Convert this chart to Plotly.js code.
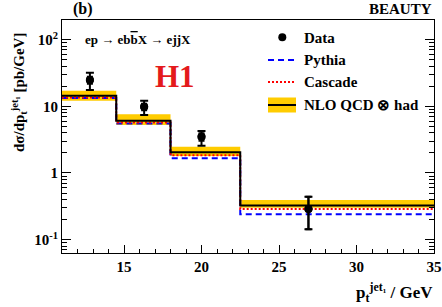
<!DOCTYPE html>
<html>
<head>
<meta charset="utf-8">
<script src="https://cdn.plot.ly/plotly-3.0.1.min.js"></script>
<style>html,body{margin:0;padding:0;background:#fff;}#chart{width:442px;height:307px;}</style>
</head>
<body>
<div id="chart"></div>
<script>
// ---- data ----
var binEdges = [11, 14.5, 18, 22.5, 35];
var dataX = [12.8, 16.3, 20.0, 26.9];
var dataY = [24.8, 9.86, 3.5, 0.289];
var dataTotUp = [7.1, 2.24, 0.76, 0.152];
var dataTotDown = [7.3, 2.45, 0.94, 0.146];
var dataStatUp = [3.0, 1.1, 0.45, 0.152];
var dataStatDown = [3.0, 1.1, 0.45, 0.146];
var nloCentral = [14.4, 6.08, 2.04, 0.326];
var nloUpper = [17.1, 7.6, 2.48, 0.394];
var nloLower = [12.1, 5.24, 1.80, 0.30];
var pythia = [13.3, 5.5, 1.66, 0.24];
var cascade = [13.5, 5.7, 1.85, 0.289];
var yTickVals = [0.1, 1, 10, 100];
var yTickText = ['10<sup>-1</sup>', '1', '10', '10<sup>2</sup>'];
var xTickVals = [15, 20, 25, 30, 35];

function stepY(v) { return v.concat([v[v.length - 1]]); }

var FONT = 'Liberation Serif, Times New Roman, serif';
var YELLOW = '#ffcc00';

var traces = [
  {x: binEdges, y: stepY(nloUpper), mode: 'lines', line: {shape: 'hv', width: 0, color: YELLOW}, showlegend: false, hoverinfo: 'skip'},
  {x: binEdges, y: stepY(nloLower), mode: 'lines', line: {shape: 'hv', width: 0, color: YELLOW}, fill: 'tonexty', fillcolor: YELLOW, showlegend: false, hoverinfo: 'skip'},
  {x: binEdges, y: stepY(pythia), mode: 'lines', line: {shape: 'hv', width: 2, color: '#0000ff', dash: '6px,4px'}, showlegend: false},
  {x: binEdges, y: stepY(cascade), mode: 'lines', line: {shape: 'hv', width: 2, color: '#ff0000', dash: '2px,2px'}, showlegend: false},
  {x: binEdges, y: stepY(nloCentral), mode: 'lines', line: {shape: 'hv', width: 2, color: '#000000'}, showlegend: false},
  {x: dataX, y: dataY, mode: 'markers', marker: {size: 8, color: '#000'}, showlegend: false,
   error_y: {type: 'data', symmetric: false, array: dataTotUp, arrayminus: dataTotDown, color: '#000', thickness: 2, width: 4}},
  {x: dataX, y: dataY, mode: 'markers', marker: {size: 8, color: '#000'}, showlegend: false,
   error_y: {type: 'data', symmetric: false, array: dataStatUp, arrayminus: dataStatDown, color: '#000', thickness: 2, width: 3}}
];

var L = 62, T = 20, W = 372, H = 233;
function px(x) { return (x - L) / W; }
function py(y) { return (T + H - y) / H; }

var ann = function (text, x, y, xa, size, extra) {
  var a = {text: text, x: px(x), y: py(y), xref: 'paper', yref: 'paper', xanchor: xa, yanchor: 'middle',
    showarrow: false, font: {family: FONT, size: size, color: '#000', weight: 'bold'}};
  if (extra) for (var k in extra) a[k] = extra[k];
  return a;
};

var annotations = [
  ann('<b>(b)</b>', 83, 9, 'center', 16),
  ann('<b>BEAUTY</b>', 434, 9, 'right', 15),
  ann('<b>ep → eb<span style="text-decoration:overline">b</span>X → ejjX</b>', 83, 39, 'left', 13),
  ann('<b>H1</b>', 175, 77, 'center', 31, {font: {family: FONT, size: 31, color: '#e41a1c'}}),
  ann('<b>Data</b>', 302, 38, 'left', 15),
  ann('<b>Pythia</b>', 302, 60, 'left', 15),
  ann('<b>Cascade</b>', 302, 82, 'left', 15),
  ann('<b>NLO QCD ⊗ had</b>', 302, 105, 'left', 15),
  ann('<b>dσ/dp<sub>t</sub><sup>jet₁</sup> [pb/GeV]</b>', 19, 93, 'center', 15, {textangle: -90}),
  ann('<b>p<sub>t</sub><sup>jet₁</sup> / GeV</b>', 435, 292, 'right', 17)
];

var shapes = [
  {type: 'circle', xref: 'paper', yref: 'paper', x0: px(278.3), x1: px(286.3), y0: py(41.3), y1: py(33.3), fillcolor: '#000', line: {width: 0}},
  {type: 'line', xref: 'paper', yref: 'paper', x0: px(268), x1: px(296), y0: py(60), y1: py(60), line: {color: '#0000ff', width: 2, dash: '6px,4px'}},
  {type: 'line', xref: 'paper', yref: 'paper', x0: px(268), x1: px(296), y0: py(82), y1: py(82), line: {color: '#ff0000', width: 2, dash: '2px,2px'}},
  {type: 'rect', xref: 'paper', yref: 'paper', x0: px(268), x1: px(296), y0: py(112.5), y1: py(97.5), fillcolor: YELLOW, line: {width: 0}},
  {type: 'line', xref: 'paper', yref: 'paper', x0: px(268), x1: px(296), y0: py(105), y1: py(105), line: {color: '#000', width: 2}}
];

var minorY = [];
[0.1, 1, 10, 100].forEach(function (d) { for (var i = 2; i <= 9; i++) { var v = d * i; if (v < 200) minorY.push(v); } });
minorY.push(0.07, 0.08, 0.09);

var layout = {
  width: 442, height: 307,
  margin: {l: L, r: 442 - L - W, t: T, b: 307 - T - H},
  paper_bgcolor: '#fff', plot_bgcolor: '#fff',
  font: {family: FONT, size: 15, color: '#000'},
  showlegend: false,
  xaxis: {
    range: [11, 35], showgrid: false, zeroline: false,
    showline: true, linecolor: '#000', linewidth: 1, mirror: true,
    tickmode: 'array', tickvals: xTickVals, ticks: 'inside', ticklen: 8, tickcolor: '#000',
    minor: {dtick: 1, tick0: 0, ticks: 'inside', ticklen: 4, tickcolor: '#000', showgrid: false},
    tickfont: {family: FONT, size: 15, weight: 'bold'}
  },
  yaxis: {
    type: 'log', range: [-1.2, 2.294], showgrid: false, zeroline: false,
    showline: true, linecolor: '#000', linewidth: 1, mirror: 'ticks',
    tickmode: 'array', tickvals: yTickVals, ticktext: yTickText, ticks: 'inside', ticklen: 9, tickcolor: '#000',
    minor: {tickmode: 'array', tickvals: minorY, ticks: 'inside', ticklen: 5, tickcolor: '#000', showgrid: false},
    tickfont: {family: FONT, size: 15, weight: 'bold'}
  },
  annotations: annotations,
  shapes: shapes
};

Plotly.newPlot('chart', traces, layout, {staticPlot: true, displayModeBar: false});
</script>
</body>
</html>
